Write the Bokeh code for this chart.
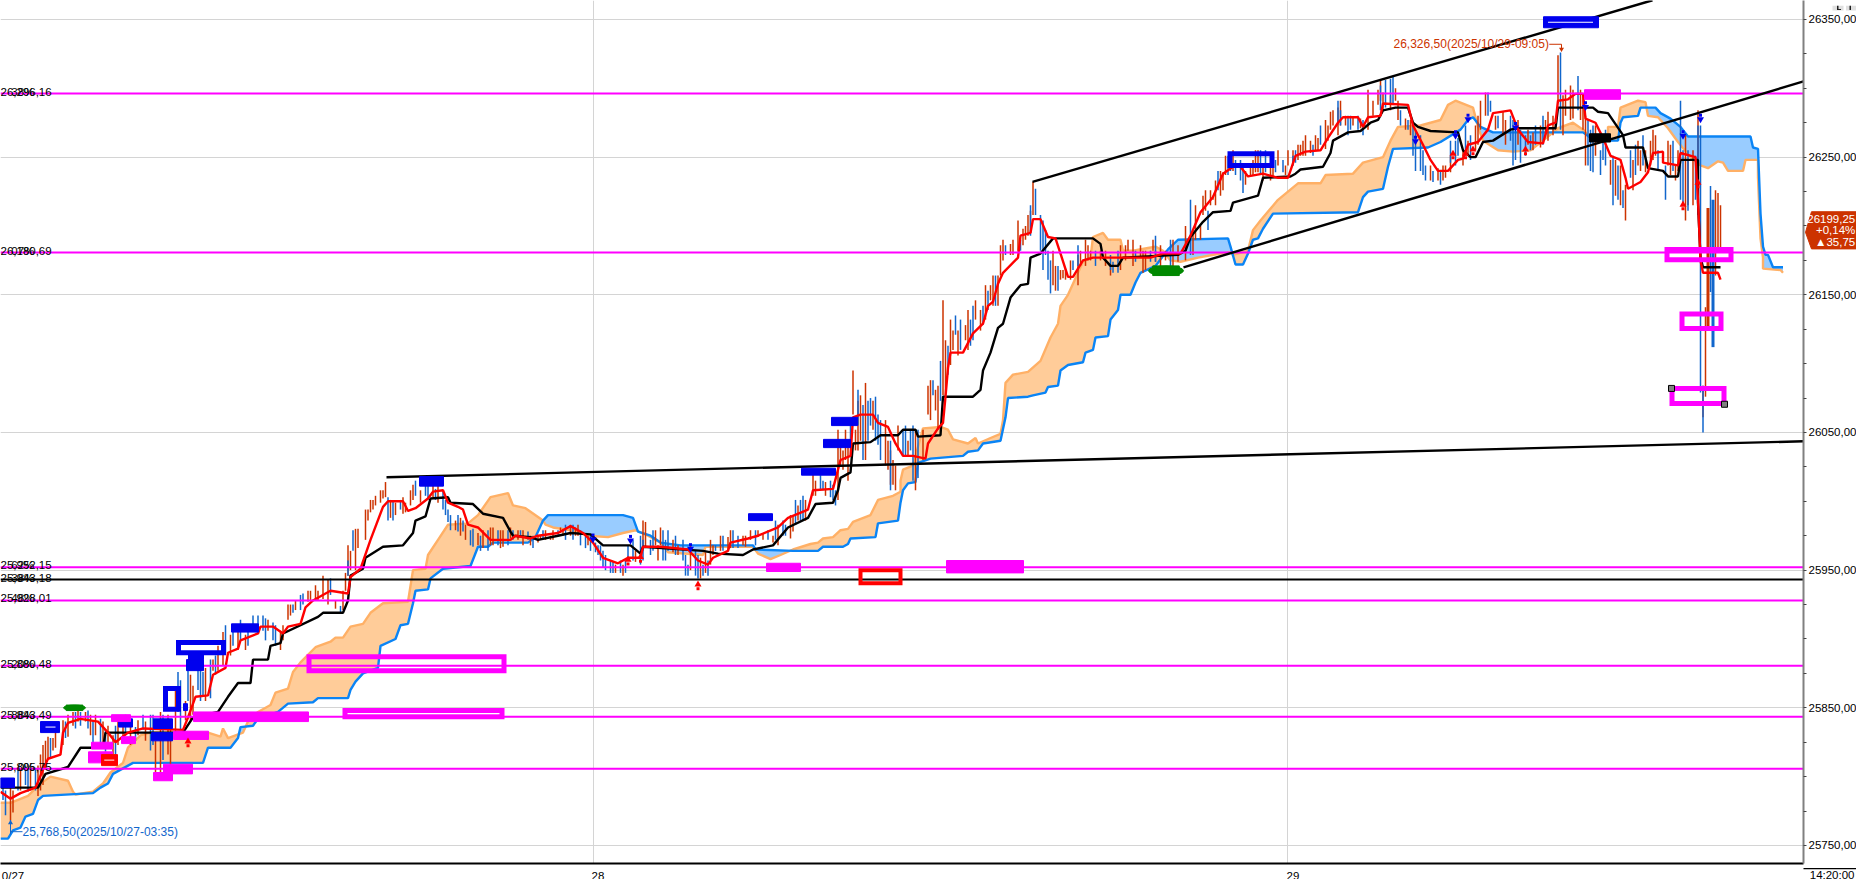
import numpy as np
from bokeh.plotting import figure
from bokeh.layouts import column
from bokeh.embed import file_html
from bokeh.resources import INLINE
from bokeh.core.properties import value
from bokeh.models import FixedTicker, Range1d

FONT = "Liberation Sans"

# ---- price levels (bar index = 5 minute bars)
level_prices = [26296.16, 26180.69, 25952.15, 25928.01, 25880.48, 25843.49, 25805.75]
black_level = 25943.18
level_labels = ["26,296,16", "26,180,69", "25,952,15", "25,943,18", "25,928,01", "25,880,48", "25,843,49", "25,805,75"]
level_label_prices = [26296.16, 26180.69, 25952.15, 25943.18, 25928.01, 25880.48, 25843.49, 25805.75]
level_pcts = ["38%", "07%", "62%", "38%", "48%", "20%", "88%", "0%"]

y_major = [25750, 25850, 25950, 26050, 26150, 26250, 26350]
y_ticks = list(range(25750, 26351, 25))
day_bars = [237.2, 514.8]
x_tick_bars = [5, 239, 517]
x_tick_labels = ["0/27", "28", "29"]

# ---- ichimoku style lines: (bar, price)
kijun = [(0,25792),(15,25792),(18,25802),(27,25807),(32,25821),(41,25821),(42,25832),(73,25832),(77,25843),(87,25847),(91,25858),(95,25868),(100,25868),(101,25885),(107,25885),(108,25895),(112,25897),(113,25904),(127,25916),(129,25919),(137,25919),(139,25928),(140,25946),(145,25951),(146,25959),(153,25967),(161,25968),(165,25977),(166,25986),(170,25989),(172,26002),(179,26003),(180,25999),(189,25998),(193,25991),(201,25988),(204,25978),(205,25975),(212,25974),(215,25972),(223,25975),(228,25977),(236,25976),(241,25968),(252,25968),(256,25962),(257,25967),(281,25964),(287,25962),(297,25961),(301,25965),(309,25968),(315,25981),(323,25988),(326,25998),(333,25999),(335,26008),(336,26017),(340,26021),(341,26042),(348,26043),(352,26048),(359,26048),(361,26052),(366,26052),(367,26047),(376,26048),(377,26076),(389,26076),(392,26081),(393,26095),(396,26108),(399,26126),(401,26129),(404,26148),(408,26157),(411,26158),(412,26177),(416,26180),(421,26191),(437,26191),(440,26187),(441,26177),(444,26171),(447,26171),(449,26177),(471,26179),(474,26182),(476,26192),(481,26203),(485,26210),(492,26211),(493,26217),(503,26222),(505,26235),(516,26236),(518,26238),(520,26241),(529,26243),(532,26253),(533,26262),(539,26268),(544,26269),(548,26275),(551,26277),(553,26284),(558,26286),(563,26286),(565,26275),(567,26272),(572,26269),(583,26268),(585,26255),(588,26250),(590,26250),(593,26261),(597,26262),(604,26270),(607,26271),(622,26271),(623,26286),(637,26286),(639,26283),(643,26282),(646,26274),(649,26266),(650,26257),(657,26257),(659,26242),(665,26240),(667,26236),(671,26236),(672,26248),(679,26248),(679,26217),(680,26177),(681,26170),(688,26170)]

tenkan = [(0,25789),(4,25784),(8,25788),(14,25792),(17,25805),(19,25813),(24,25816),(25,25832),(27,25839),(32,25842),(39,25840),(43,25832),(46,25825),(51,25832),(57,25835),(73,25834),(75,25843),(78,25858),(83,25859),(85,25874),(90,25879),(91,25890),(95,25893),(96,25899),(103,25904),(104,25909),(109,25909),(113,25904),(115,25909),(120,25911),(122,25923),(125,25928),(132,25935),(139,25933),(140,25945),(144,25951),(148,25972),(153,25996),(155,26000),(161,26000),(163,25993),(166,25995),(171,26002),(173,26007),(177,26008),(179,25999),(183,25996),(185,25994),(187,25983),(191,25981),(196,25972),(204,25972),(206,25975),(212,25973),(215,25975),(223,25977),(228,25982),(233,25977),(237,25970),(241,25959),(247,25955),(251,25959),(256,25959),(257,25967),(264,25967),(275,25965),(279,25957),(283,25954),(285,25959),(291,25964),(292,25970),(299,25973),(303,25975),(311,25981),(315,25988),(323,25994),(325,26008),(333,26009),(335,26023),(336,26030),(340,26033),(341,26061),(344,26063),(349,26063),(351,26057),(355,26054),(358,26042),(361,26033),(365,26033),(370,26031),(371,26042),(375,26053),(377,26057),(378,26076),(379,26097),(380,26108),(385,26108),(389,26122),(393,26129),(395,26142),(397,26145),(399,26158),(401,26166),(407,26177),(408,26193),(412,26195),(413,26205),(416,26205),(419,26192),(422,26191),(424,26180),(427,26163),(429,26163),(433,26175),(437,26177),(460,26177),(465,26180),(472,26180),(476,26193),(480,26210),(485,26221),(489,26238),(493,26243),(496,26243),(499,26236),(505,26238),(511,26235),(515,26235),(518,26251),(522,26254),(528,26255),(531,26264),(535,26275),(537,26279),(543,26279),(545,26272),(547,26279),(552,26280),(553,26289),(563,26288),(565,26273),(569,26259),(572,26248),(575,26240),(579,26240),(583,26248),(585,26249),(587,26259),(591,26261),(595,26270),(597,26282),(604,26284),(607,26270),(611,26261),(617,26260),(619,26273),(622,26275),(623,26291),(627,26292),(630,26296),(633,26296),(634,26278),(638,26275),(641,26264),(644,26251),(648,26248),(650,26235),(651,26227),(656,26232),(659,26239),(661,26253),(665,26254),(665,26246),(671,26244),(672,26253),(678,26250),(679,26219),(680,26175),(681,26166),(687,26166),(688,26161)]

span_blue = [(0,25755),(3,25755),(5,25761),(8,25763),(10,25771),(13,25773),(15,25783),(17,25786),(37,25788),(40,25792),(43,25795),(45,25802),(49,25806),(53,25810),(81,25810),(83,25821),(92,25821),(95,25828),(96,25836),(101,25837),(103,25842),(111,25847),(115,25853),(125,25854),(127,25857),(139,25857),(140,25863),(142,25869),(145,25875),(151,25879),(152,25895),(158,25900),(160,25910),(163,25911),(165,25926),(166,25935),(171,25936),(172,25944),(177,25951),(188,25953),(191,25967),(195,25967),(197,25970),(211,25970),(214,25974),(217,25986),(219,25990),(249,25990),(253,25988),(255,25978),(260,25975),(264,25970),(272,25968),(301,25968),(302,25965),(317,25964),(327,25964),(329,25967),(337,25967),(339,25969),(340,25973),(350,25974),(351,25984),(359,25986),(360,25999),(361,26008),(363,26013),(366,26014),(367,26028),(372,26031),(385,26033),(387,26036),(391,26037),(393,26042),(400,26044),(402,26061),(403,26075),(411,26076),(413,26077),(418,26079),(419,26083),(423,26084),(424,26095),(427,26099),(433,26101),(434,26108),(437,26110),(438,26119),(443,26120),(444,26132),(447,26139),(448,26150),(452,26150),(454,26159),(456,26166),(462,26171),(467,26183),(471,26190),(491,26191),(492,26185),(494,26172),(497,26172),(499,26180),(501,26190),(503,26191),(505,26198),(509,26209),(543,26210),(545,26221),(547,26225),(553,26227),(555,26243),(557,26256),(571,26257),(576,26261),(584,26270),(587,26277),(589,26279),(592,26272),(597,26268),(633,26268),(636,26264),(643,26262),(647,26262),(648,26275),(649,26279),(655,26280),(656,26286),(662,26286),(664,26282),(668,26278),(672,26272),(675,26265),(700,26265),(701,26257),(703,26256),(704,26209),(705,26185),(706,26179),(707,26179),(709,26170),(713,26170)]

span_orange = [(0,25781),(4,25781),(11,25786),(16,25795),(20,25800),(27,25797),(29,25789),(30,25787),(37,25789),(41,25795),(44,25803),(49,25810),(51,25821),(56,25830),(60,25832),(83,25832),(88,25829),(89,25835),(91,25828),(97,25832),(99,25840),(103,25847),(108,25852),(110,25861),(115,25864),(117,25876),(120,25883),(126,25894),(132,25898),(134,25901),(137,25901),(140,25909),(145,25911),(148,25919),(153,25926),(163,25927),(165,25950),(170,25951),(171,25961),(175,25972),(179,25983),(187,25984),(191,25990),(196,26003),(203,26006),(205,25997),(210,25995),(217,25986),(218,25983),(221,25981),(228,25979),(235,25975),(243,25974),(249,25977),(254,25979),(259,25975),(264,25970),(267,25963),(281,25961),(282,25967),(301,25967),(303,25962),(308,25958),(312,25961),(317,25965),(324,25969),(327,25970),(329,25973),(333,25974),(336,25979),(339,25980),(341,25985),(348,25990),(351,26001),(357,26004),(360,26007),(360,26015),(361,26023),(365,26026),(369,26053),(376,26054),(379,26052),(381,26045),(387,26042),(390,26046),(391,26042),(396,26046),(400,26049),(401,26059),(402,26086),(405,26092),(411,26094),(416,26102),(420,26119),(423,26129),(424,26142),(427,26150),(430,26162),(433,26174),(436,26177),(437,26192),(441,26195),(443,26190),(448,26190),(449,26182),(453,26182),(459,26184),(462,26185),(465,26182),(468,26175),(472,26174),(479,26177),(488,26180),(492,26181),(493,26179),(499,26182),(501,26197),(504,26204),(511,26219),(519,26231),(528,26231),(530,26237),(541,26238),(545,26246),(553,26250),(556,26262),(559,26272),(568,26273),(576,26277),(579,26288),(582,26291),(589,26286),(591,26272),(593,26262),(599,26255),(605,26254),(612,26255),(617,26262),(623,26271),(629,26275),(633,26270),(636,26264),(643,26262),(643,26272),(647,26272),(648,26286),(655,26291),(658,26290),(659,26280),(663,26279),(667,26271),(671,26261),(676,26250),(680,26244),(683,26242),(687,26247),(689,26246),(691,26240),(697,26240),(698,26248),(703,26248),(703,26235),(704,26191),(705,26177),(705,26169),(712,26168),(713,26166)]

# ---- price bars: (bar, high, low)
red_bars = [(4,25792,25768),(5,25790,25774),(8,25806,25790),(12,25805,25790),(15,25808,25786),(16,25816,25790),(17,25823,25794),(18,25826,25805),(19,25829,25812),(21,25828,25819),(22,25834,25821),(25,25841,25823),(27,25845,25829),(29,25847,25837),(31,25852,25840),(34,25847,25840),(36,25845,25830),(38,25845,25830),(41,25840,25823),(43,25837,25823),(45,25830,25816),(47,25842,25823),(49,25840,25826),(52,25840,25823),(55,25841,25830),(58,25840,25826),(62,25826,25801),(64,25847,25801),(67,25845,25816),(68,25841,25801),(70,25863,25830),(74,25855,25841),(76,25874,25841),(77,25866,25845),(82,25879,25855),(85,25885,25877),(87,25895,25877),(89,25905,25881),(92,25903,25888),(95,25906,25892),(98,25903,25892),(107,25914,25906),(112,25906,25892),(113,25910,25899),(115,25925,25914),(116,25925,25917),(118,25928,25921),(123,25935,25927),(124,25935,25928),(126,25939,25929),(127,25935,25928),(129,25946,25929),(131,25943,25925),(134,25928,25922),(137,25935,25921),(138,25948,25935),(139,25968,25946),(140,25964,25950),(142,25980,25950),(143,25980,25966),(146,25994,25972),(147,25994,25986),(148,26001,25992),(149,26001,25994),(150,26004,25997),(152,26008,25999),(153,26008,26002),(154,26014,26003),(156,26001,25988),(158,25999,25990),(161,26003,25991),(162,25999,25992),(164,26008,25997),(165,26012,26001),(168,26008,25999),(173,26012,26003),(175,26012,25999),(182,25986,25979),(184,25988,25975),(186,25983,25972),(191,25977,25968),(193,25979,25966),(196,25981,25968),(197,25981,25968),(200,25979,25966),(201,25979,25967),(204,25981,25973),(207,25979,25972),(209,25979,25968),(212,25975,25968),(215,25975,25970),(216,25975,25972),(218,25979,25972),(220,25975,25972),(221,25979,25972),(224,25981,25977),(225,25980,25975),(228,25983,25975),(230,25981,25975),(231,25983,25975),(235,25975,25968),(246,25954,25948),(249,25954,25946),(254,25964,25956),(257,25986,25964),(258,25985,25967),(262,25979,25968),(263,25968,25957),(264,25981,25968),(269,25972,25963),(271,25968,25961),(276,25968,25950),(280,25959,25944),(282,25963,25948),(284,25972,25954),(285,25968,25961),(288,25975,25964),(291,25974,25964),(292,25979,25966),(297,25975,25968),(298,25975,25967),(300,25979,25972),(303,25979,25974),(305,25977,25972),(309,25975,25970),(311,25983,25968),(316,25990,25973),(317,25990,25978),(319,25997,25986),(322,26001,25986),(325,26021,26004),(326,26015,26004),(330,26014,26004),(335,26052,26001),(336,26041,26026),(337,26037,26023),(338,26052,26030),(339,26044,26015),(341,26095,26063),(342,26052,26037),(343,26073,26037),(344,26077,26044),(346,26086,26030),(349,26073,26052),(354,26059,26026),(355,26044,26023),(356,26037,26012),(357,26030,26012),(358,26026,26008),(359,26055,26037),(363,26044,26033),(366,26052,26008),(369,26052,26030),(371,26084,26063),(372,26088,26059),(374,26081,26066),(375,26084,26052),(377,26146,26077),(378,26117,26077),(380,26132,26099),(381,26124,26110),(383,26124,26106),(386,26128,26117),(387,26139,26110),(390,26146,26132),(392,26139,26124),(394,26157,26132),(396,26157,26146),(397,26164,26142),(399,26164,26142),(400,26186,26164),(401,26190,26175),(404,26187,26179),(405,26190,26179),(407,26204,26182),(409,26198,26186),(410,26200,26190),(411,26208,26193),(412,26211,26195),(413,26232,26208),(421,26182,26157),(422,26171,26153),(424,26168,26161),(425,26168,26162),(426,26169,26161),(428,26175,26161),(431,26179,26157),(432,26182,26171),(434,26190,26171),(435,26186,26175),(436,26182,26175),(440,26182,26175),(442,26182,26171),(444,26171,26164),(448,26186,26168),(450,26186,26175),(451,26190,26182),(453,26190,26171),(456,26186,26177),(457,26182,26166),(458,26182,26168),(461,26190,26182),(462,26182,26174),(464,26186,26168),(466,26182,26175),(469,26190,26168),(471,26186,26174),(474,26200,26175),(477,26197,26179),(478,26215,26190),(480,26200,26190),(481,26222,26208),(482,26226,26211),(484,26226,26215),(485,26222,26219),(486,26233,26215),(488,26240,26222),(489,26239,26226),(490,26251,26237),(493,26255,26240),(498,26240,26230),(500,26244,26237),(501,26248,26237),(502,26255,26239),(503,26255,26239),(505,26244,26233),(508,26244,26233),(509,26244,26235),(511,26255,26244),(514,26244,26237),(515,26255,26244),(517,26255,26244),(519,26259,26248),(520,26259,26251),(521,26262,26251),(522,26266,26251),(524,26262,26253),(526,26266,26255),(527,26264,26255),(530,26277,26256),(531,26273,26262),(532,26283,26270),(533,26284,26273),(535,26286,26266),(536,26291,26273),(538,26280,26273),(541,26279,26273),(544,26278,26271),(547,26299,26270),(549,26291,26280),(551,26299,26288),(553,26297,26284),(552,26306,26291),(556,26295,26284),(558,26300,26291),(559,26291,26277),(562,26278,26270),(564,26277,26266),(572,26244,26233),(575,26242,26233),(577,26244,26233),(578,26244,26235),(580,26251,26239),(585,26255,26244),(587,26262,26251),(590,26273,26255),(591,26280,26259),(592,26291,26270),(594,26297,26280),(598,26280,26270),(601,26283,26266),(602,26277,26259),(607,26277,26259),(611,26270,26259),(613,26268,26255),(616,26273,26257),(618,26277,26266),(619,26283,26262),(621,26280,26266),(622,26278,26270),(623,26324,26291),(625,26295,26266),(626,26299,26280),(628,26302,26277),(629,26299,26278),(632,26299,26277),(633,26295,26270),(634,26280,26244),(638,26273,26251),(644,26248,26230),(646,26248,26222),(648,26244,26215),(650,26230,26204),(653,26248,26226),(655,26262,26244),(656,26255,26240),(658,26255,26239),(660,26262,26244),(661,26270,26248),(662,26266,26251),(667,26262,26244),(668,26259,26237),(670,26244,26233),(671,26255,26240),(674,26266,26204),(675,26248,26215),(677,26255,26215),(679,26284,26219),(681,26084,26061),(682,26141,26076),(686,26226,26164),(687,26224,26182),(688,26215,26182)]

blue_bars = [(1,25794,25783),(2,25790,25772),(7,25805,25790),(10,25808,25794),(11,25806,25789),(14,25806,25790),(20,25828,25814),(26,25840,25828),(30,25847,25835),(32,25847,25837),(35,25848,25835),(37,25841,25823),(40,25842,25823),(42,25834,25818),(46,25837,25816),(50,25845,25830),(54,25836,25826),(57,25845,25834),(60,25845,25819),(61,25845,25823),(65,25845,25812),(71,25876,25847),(72,25870,25834),(75,25877,25855),(79,25881,25863),(80,25879,25855),(81,25876,25859),(84,25885,25857),(86,25888,25874),(90,25910,25890),(93,25910,25895),(96,25914,25899),(99,25906,25895),(101,25917,25908),(103,25917,25910),(105,25917,25906),(106,25915,25899),(109,25912,25899),(110,25910,25895),(117,25925,25919),(120,25932,25921),(121,25933,25925),(132,25944,25932),(136,25924,25919),(139,25957,25946),(141,25979,25964),(155,26003,25986),(157,26001,25986),(160,26001,25994),(166,26015,26004),(170,26013,26004),(171,26013,26001),(174,26009,26001),(177,26008,25994),(178,26001,25990),(179,25994,25985),(180,25990,25979),(183,25990,25978),(185,25986,25978),(188,25979,25968),(189,25980,25967),(192,25975,25964),(195,25979,25964),(199,25979,25968),(203,25979,25968),(205,25979,25972),(208,25979,25974),(211,25978,25972),(213,25975,25966),(217,25979,25972),(223,25979,25975),(226,25983,25972),(229,25983,25972),(232,25979,25968),(234,25975,25966),(236,25975,25964),(238,25970,25963),(239,25968,25961),(240,25968,25957),(241,25964,25952),(242,25961,25950),(244,25957,25948),(245,25956,25948),(248,25957,25948),(250,25957,25948),(251,25968,25957),(253,25972,25957),(256,25975,25954),(257,25972,25957),(260,25972,25961),(261,25979,25964),(265,25979,25957),(266,25972,25957),(267,25979,25964),(270,25975,25961),(273,25972,25957),(274,25961,25946),(275,25954,25946),(278,25964,25946),(279,25961,25944),(281,25954,25946),(283,25957,25946),(286,25968,25964),(289,25975,25964),(293,25979,25966),(295,25975,25966),(302,25979,25968),(307,25979,25972),(310,25986,25972),(313,25986,25975),(314,25983,25975),(318,26001,25983),(320,26001,25986),(321,26004,25986),(328,26019,26008),(329,26015,26008),(332,26015,26003),(333,26012,26001),(334,26008,25997),(340,26055,26041),(343,26081,26055),(345,26070,26030),(347,26073,26044),(348,26075,26055),(350,26076,26044),(351,26063,26041),(352,26059,26030),(356,26044,26008),(361,26052,26033),(362,26055,26033),(364,26052,26037),(365,26055,26015),(367,26052,26017),(373,26088,26077),(376,26102,26073),(379,26113,26092),(382,26135,26121),(384,26132,26110),(388,26132,26113),(389,26142,26117),(393,26142,26128),(395,26153,26139),(398,26164,26142),(402,26186,26179),(408,26190,26182),(412,26215,26193),(414,26227,26208),(416,26208,26182),(417,26204,26168),(418,26197,26179),(419,26182,26161),(420,26175,26151),(423,26171,26153),(429,26175,26168),(431,26186,26171),(438,26182,26171),(444,26179,26168),(445,26174,26166),(447,26182,26166),(454,26182,26174),(460,26182,26174),(462,26193,26174),(468,26190,26171),(476,26219,26179),(483,26211,26197),(487,26240,26226),(491,26251,26237),(492,26248,26240),(494,26248,26237),(496,26248,26233),(497,26244,26224),(504,26255,26237),(506,26255,26239),(510,26248,26239),(513,26248,26239),(517,26251,26244),(518,26255,26246),(525,26259,26251),(528,26273,26259),(535,26291,26275),(536,26284,26273),(539,26280,26266),(540,26280,26270),(543,26280,26270),(545,26277,26266),(552,26302,26284),(554,26306,26286),(556,26307,26288),(557,26309,26288),(560,26284,26273),(563,26277,26270),(565,26273,26251),(566,26270,26240),(568,26266,26240),(569,26255,26237),(570,26244,26233),(573,26240,26232),(576,26240,26230),(580,26262,26246),(582,26262,26244),(583,26264,26251),(586,26273,26251),(588,26266,26248),(595,26297,26280),(596,26291,26283),(599,26280,26271),(604,26280,26262),(605,26277,26244),(606,26273,26248),(608,26270,26246),(610,26266,26251),(612,26266,26255),(614,26273,26259),(617,26280,26259),(624,26326,26270),(631,26309,26284),(635,26277,26244),(636,26270,26240),(637,26273,26239),(640,26255,26237),(641,26266,26248),(642,26270,26244),(645,26251,26215),(647,26244,26219),(649,26226,26213),(652,26255,26235),(654,26259,26237),(657,26266,26244),(663,26255,26240),(666,26244,26219),(669,26262,26240),(672,26291,26219),(673,26255,26215),(675,26255,26211),(678,26251,26219),(679,26273,26208),(680,26273,26079),(681,26084,26050),(684,26229,26152)]

# tall bars with a wide body on the last session: (bar, high, low)
wide_red_bars = [(683,26213,26127)]
wide_blue_bars = [(685,26219,26112)]

# ---- drawn rectangles: (left bar, right bar, top price, bottom price)
solid_blue = [(0,5.6,25799,25792),(16,23.6,25840,25832),(47.2,52.8,25842,25836),(61.2,68.8,25842,25835),(60.4,68.8,25832,25826),(73.2,74.8,25853,25848),(74.4,81.2,25885,25877),(75.2,81.2,25889,25885),(92.4,103.2,25911,25905),(167.6,177.2,26018,26011),(299.2,308.8,25991,25986),(320.4,334,26024,26019),(329.2,340,26045,26039),(332.4,342.8,26061,26055),(617.2,639.2,26352,26344)]
solid_magenta = [(77.2,123.2,25847,25840),(44.4,52,25845,25840),(36.4,44.8,25825,25820),(35.2,44.8,25818,25810),(48.4,54,25829,25824),(69.2,83.2,25833,25827),(65.2,76.8,25809,25802),(61.2,68.8,25803,25797),(306.4,320,25955,25949),(378.4,409.2,25957,25948),(633.6,648,26299,26292)]
solid_red = [(40.4,46.8,25816,25808)]
solid_black = [(635.6,644,26267,26261)]
green_pills = [(25.2,34,25852,25848),(459.2,473.2,26171,26164)]
hollow_magenta = [(123.4,201.4,25887,25877),(137.8,200.6,25848,25843.5),(666.6,692.2,26183,26175.5),(672.6,688.2,26136,26125.5),(668.6,689.4,26082,26071)]
hollow_blue = [(71.2,89.2,25897.5,25890),(66,71.2,25864,25849),(491.8,508.6,26252.5,26244)]
hollow_red = [(344,360,25950,25940.5)]
white_dashes = [(18,22,25836),(619,637,26348),(41.5,45.5,25812),(140,199,25845.8)]
handle_bars = [668.4, 689.6]
handle_prices = [26082, 26070.5]

# ---- trend lines: (bar0, price0, bar1, price1)
trend_lines = [(154.4,26017.5,721.2,26043.6),(412.8,26232,660.8,26364),(473.2,26170,721.2,26305)]

# ---- signal arrows: (bar, price)
sell_arrows = [(237,25974),(252,25973),(276,25967),(566,26263),(582,26267),(587,26279),(606,26273),(634,26288),(673,26267),(680,26279)]
buy_arrows = [(75,25824),(251,25956),(256,25958),(279,25938),(581,26251),(586,26251),(589,26254),(610,26254),(673,26214),(679,26230)]

low_text = "25,768,50(2025/10/27-03:35)"
high_text = "26,326,50(2025/10/29-09:05)"
tag_texts = ["26199,25", "+0,14%", "\u25b235,75"]
tag_prices = [26209, 26200.5, 26192]
tag_xs = [722, 724.4, 742.4, 742.4, 724.4]
tag_ys = [26199, 26214, 26214, 26187, 26187]
time_text = "14:20:00"

# chrome around the chart: (left, right, top, bottom) in the same bar/price scale
strip_black = [(721.2,742.4,25737.3,25736.3)]
strip_band = [(0,742.4,25729,25725.3)]
strip_line = [(0,742.4,25729.3,25728.6)]
strip_dark = [(666,666.4,25729,25725.3),(672.8,673.2,25729,25725.3),(675,688,25728.6,25727.6),(689,722,25728.6,25727.6)]
corner_boxes = [(732.8,737.2,26363.8,26360.2),(738.2,742.2,26363.8,26360.2)]
corner_marks = [(734.6,735.2,26363.8,26360.8),(734.6,736.2,26361.2,26360.6),(739.6,740.2,26363.8,26360.6)]

RED_BAR, BLUE_BAR = "#CC3300", "#1166CC"
MAGENTA = "#FF00FF"
BLUE_BOX = "#0000EE"

p = figure(frame_width=1803, frame_height=863, x_range=Range1d(0, 721.2), y_range=Range1d(25736.9, 26363.8),
           y_axis_location="right", output_backend="svg", toolbar_location=None,
           min_border_left=0, min_border_top=0, min_border_right=53, min_border_bottom=16,
           background_fill_color="white", border_fill_color="white", outline_line_color=None)

# axes + grids
ya = p.yaxis[0]
ya.ticker = FixedTicker(ticks=y_ticks)
ya.major_label_overrides = {t: (f"{t},00" if t in y_major else "") for t in y_ticks}
ya.major_tick_out, ya.major_tick_in = 3, 0
ya.minor_tick_line_color = None
ya.major_tick_line_color = "#444444"
ya.axis_line_color = "#808080"
ya.axis_line_width = 2
ya.major_label_standoff = 2
ya.major_label_text_font = FONT
ya.major_label_text_font_size = "11.5px"
ya.major_label_text_color = "black"

xa = p.xaxis[0]
xa.ticker = FixedTicker(ticks=x_tick_bars)
xa.major_label_overrides = dict(zip(x_tick_bars, x_tick_labels))
xa.major_tick_line_color = None
xa.minor_tick_line_color = None
xa.axis_line_color = "black"
xa.axis_line_width = 2
xa.major_label_standoff = 0
xa.major_label_text_font = FONT
xa.major_label_text_font_size = "11.5px"
xa.major_label_text_color = "black"

p.ygrid[0].ticker = FixedTicker(ticks=y_major)
p.xgrid[0].ticker = FixedTicker(ticks=day_bars)
p.ygrid[0].grid_line_color = "#D4D4D4"
p.xgrid[0].grid_line_color = "#D4D4D4"
p.ygrid[0].grid_line_width = 1
p.xgrid[0].grid_line_width = 1

def xy(s):
    return [a[0] for a in s], [a[1] for a in s]

# cloud fill
bx, by = xy(span_blue)
ox, oy = xy(span_orange)
gx = np.arange(0, 713.01, 0.25)
gb = np.interp(gx, bx, by)
go = np.interp(gx, ox, oy)
top = np.maximum(gb, go)
p.varea(x=gx, y1=gb, y2=top, fill_color="#FFCC99")
p.varea(x=gx, y1=go, y2=top, fill_color="#99CCFF")
p.line(ox, oy, line_color="#FFB066", line_width=2.4)
p.line(bx, by, line_color="#0A84F5", line_width=2.4)

# bars
for bars, col, w in ((red_bars, RED_BAR, 1.5), (blue_bars, BLUE_BAR, 1.5), (wide_red_bars, RED_BAR, 3), (wide_blue_bars, BLUE_BAR, 3)):
    p.segment([b[0] for b in bars], [b[1] for b in bars], [b[0] for b in bars], [b[2] for b in bars],
              line_color=col, line_width=w)

# moving lines
kx, ky = xy(kijun)
p.line(kx, ky, line_color="black", line_width=2.4)
tx, ty = xy(tenkan)
p.line(tx, ty, line_color="#FF0000", line_width=2.4)

# levels
for lv in level_prices:
    p.line([0, 721.2], [lv, lv], line_color=MAGENTA, line_width=2)
p.line([0, 721.2], [black_level, black_level], line_color="black", line_width=2)

# trend lines
for x0, y0, x1, y1 in trend_lines:
    p.line([x0, x1], [y0, y1], line_color="black", line_width=2.4)

def quads(fig, boxes, col, line=True):
    fig.quad(left=[b[0] for b in boxes], right=[b[1] for b in boxes], top=[b[2] for b in boxes],
             bottom=[b[3] for b in boxes], fill_color=col, line_color=col if line else None, line_width=1)

def hollow(boxes, col, w):
    p.quad(left=[b[0] for b in boxes], right=[b[1] for b in boxes], top=[b[2] for b in boxes],
           bottom=[b[3] for b in boxes], fill_color=None, line_color=col, line_width=w, line_join="miter")

quads(p, solid_blue, BLUE_BOX)
quads(p, solid_magenta, MAGENTA)
quads(p, solid_red, "#FF0000")
quads(p, solid_black, "black")
hollow(hollow_magenta, MAGENTA, 5)
hollow(hollow_blue, BLUE_BOX, 5)
hollow(hollow_red, "#FF0000", 4)
p.segment([d[0] for d in white_dashes], [d[2] for d in white_dashes], [d[1] for d in white_dashes], [d[2] for d in white_dashes],
          line_color="white", line_width=1)
p.ellipse(x=[(g[0]+g[1])/2 for g in green_pills], y=[(g[2]+g[3])/2 for g in green_pills],
          width=[g[1]-g[0] for g in green_pills], height=[g[2]-g[3] for g in green_pills],
          fill_color="#008800", line_color="#008800")
p.quad(left=[g[0]+(g[1]-g[0])*0.12 for g in green_pills], right=[g[1]-(g[1]-g[0])*0.12 for g in green_pills],
       top=[g[2] for g in green_pills], bottom=[g[3] for g in green_pills], fill_color="#008800", line_color="#008800")
p.scatter(handle_bars, handle_prices, marker="square", size=6, fill_color="#808080", line_color="black", line_width=1)

# arrows
sx, sy = xy(sell_arrows)
p.scatter(sx, [v + 1.5 for v in sy], marker="square", size=3, fill_color=BLUE_BOX, line_color=None)
p.scatter(sx, [v - 1.5 for v in sy], marker="inverted_triangle", size=7, fill_color=BLUE_BOX, line_color=None)
rx, ry = xy(buy_arrows)
p.scatter(rx, [v - 1.5 for v in ry], marker="square", size=3, fill_color="#FF0000", line_color=None)
p.scatter(rx, [v + 1.5 for v in ry], marker="triangle", size=7, fill_color="#FF0000", line_color=None)

# level labels
tfont = value(FONT)
p.text(x=[0] * len(level_labels), y=level_label_prices, text=level_labels, text_font=tfont, text_font_size="11.5px",
       text_baseline="alphabetic", text_color="black", y_offset=-2)
p.text(x=[13.5] * len(level_pcts), y=level_label_prices, text=level_pcts, text_font=tfont, text_font_size="11.5px",
       text_baseline="alphabetic", text_align="right", text_color="black", y_offset=-2)

# extreme labels
p.line([4, 4], [25768.5, 25758], line_color=BLUE_BAR, line_width=1)
p.line([4, 8.8], [25760, 25760], line_color=BLUE_BAR, line_width=1)
p.scatter([4], [25766.5], marker="triangle", size=5, fill_color=BLUE_BAR, line_color=None)
p.text(x=[8.8], y=[25760], text=[low_text], text_font=tfont, text_font_size="12px", text_baseline="middle", text_color=BLUE_BAR)
p.line([619.5, 624.4, 624.4], [26332, 26332, 26327], line_color=RED_BAR, line_width=1)
p.scatter([624.4], [26328.5], marker="inverted_triangle", size=5, fill_color=RED_BAR, line_color=None)
p.text(x=[557.2], y=[26332], text=[high_text], text_font=tfont, text_font_size="12px", text_baseline="middle", text_color=RED_BAR)

# transparent overlay over the whole page, same scale, for what lies outside the main frame
o = figure(frame_width=1856, frame_height=879, x_range=Range1d(0, 742.4), y_range=Range1d(25725.3, 26363.8),
           x_axis_location=None, y_axis_location=None, output_backend="svg", toolbar_location=None,
           min_border_left=0, min_border_top=0, min_border_right=0, min_border_bottom=0,
           background_fill_alpha=0, border_fill_alpha=0, outline_line_color=None)
o.margin = (-879, 0, 0, 0)
o.grid.visible = False
o.patch(tag_xs, tag_ys, fill_color="#CC3300", line_color="#CC3300")
o.text(x=[741.9] * len(tag_texts), y=tag_prices, text=tag_texts, text_color="white", text_align="right",
       text_baseline="middle", text_font=tfont, text_font_size="11.5px")
quads(o, strip_black, "black", line=False)
quads(o, strip_band, "#F0F0F0", line=False)
quads(o, strip_line, "#A8A8A8", line=False)
quads(o, strip_dark, "#808080", line=False)
quads(o, corner_boxes, "#E0E0E0", line=False)
quads(o, corner_marks, "#202020", line=False)
o.text(x=[741.6], y=[25732.3], text=[time_text], text_color="black", text_align="right", text_baseline="middle",
       text_font=tfont, text_font_size="11.5px")

page = column(p, o)
page.spacing = 0
open("out.html", "w").write(file_html(page, INLINE))
